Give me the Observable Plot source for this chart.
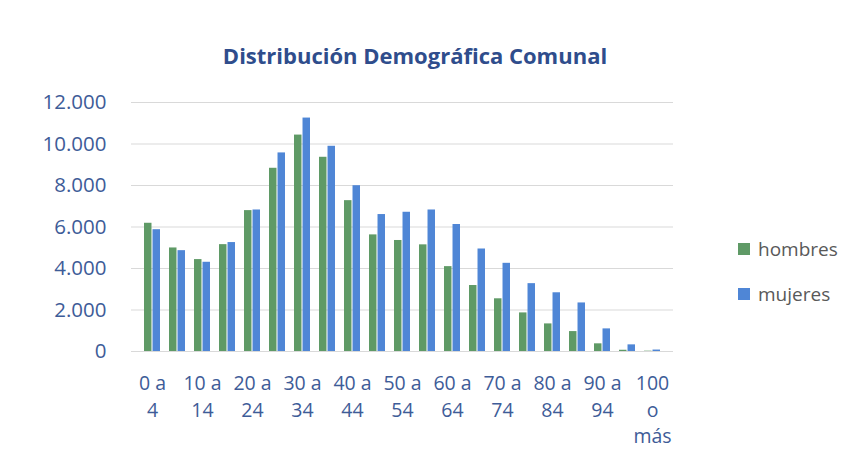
<!DOCTYPE html>
<html>
<head>
<meta charset="utf-8">
<script src="https://cdn.jsdelivr.net/npm/d3@7"></script>
<script src="https://cdn.jsdelivr.net/npm/@observablehq/plot@0.6"></script>
<style>
  html, body { margin: 0; padding: 0; background: #fff; }
  #wrap { position: relative; width: 863px; height: 471px; background: #fff; font-family: "Open Sans", Lato, sans-serif; overflow: hidden; }
  #title { position: absolute; left: 0; width: 830px; top: 40px; text-align: center; font-weight: bold; font-size: 22px; color: #2f4d8c; }
  #chart { position: absolute; left: 0; top: 80px; }
  #legend { position: absolute; left: 738px; top: 0; font-size: 19px; color: #595959; }
  .item { position: absolute; left: 0; display: flex; align-items: center; white-space: nowrap; }
  .sw { width: 12px; height: 12px; margin-right: 8px; }
</style>
</head>
<body>
<div id="wrap">
  <div id="title">Distribución Demográfica Comunal</div>
  <div id="chart"></div>
  <div id="legend"></div>
</div>
<script>
const categories = ["0 a 4","5 a 9","10 a 14","15 a 19","20 a 24","25 a 29","30 a 34","35 a 39","40 a 44","45 a 49","50 a 54","55 a 59","60 a 64","65 a 69","70 a 74","75 a 79","80 a 84","85 a 89","90 a 94","95 a 99","100 o más"];
const hombres = [6180, 4990, 4430, 5150, 6790, 8830, 10430, 9360, 7270, 5620, 5350, 5140, 4090, 3180, 2540, 1860, 1330, 960, 370, 60, 15];
const mujeres = [5870, 4860, 4300, 5250, 6820, 9570, 11250, 9890, 7990, 6600, 6710, 6820, 6120, 4940, 4250, 3270, 2830, 2340, 1090, 320, 70];
const series = ["hombres", "mujeres"];
const colors = ["#5f9a66", "#4f86d6"];
const yTicks = [0, 2000, 4000, 6000, 8000, 10000, 12000];
const shownLabels = categories.filter((d, i) => i % 2 === 0);

const dataH = categories.map((c, i) => ({age: c, sexo: "hombres", value: hombres[i]}));
const dataM = categories.map((c, i) => ({age: c, sexo: "mujeres", value: mujeres[i]}));

const es = d3.formatLocale({decimal: ",", thousands: ".", grouping: [3], currency: ["", "€"]});
const fmt = es.format(",d");
const wrapLabel = d => d.replace(" a ", " a\n").replace(" o ", "\no\n");

const W = 700, ML = 131, MR = 27;
const pInner = 0.34, pOuter = 0.17;
const step = (W - ML - MR) / (categories.length - pInner + 2 * pOuter);
const half = step * (1 - pInner) / 2;

const textColor = "#3e5c98";
const chart = Plot.plot({
  width: W,
  height: 380,
  marginTop: 22,
  marginBottom: 109,
  marginLeft: ML,
  marginRight: MR,
  style: {fontFamily: "'Open Sans', Lato, sans-serif", fontSize: "19px", background: "transparent"},
  x: {domain: categories, paddingInner: pInner, paddingOuter: pOuter, label: null},
  y: {domain: [0, 12000], label: null},
  color: {domain: series, range: colors},
  marks: [
    Plot.gridY(yTicks, {stroke: "#d9d9d9", strokeOpacity: 1}),
    Plot.axisY(yTicks, {tickSize: 0, tickPadding: 25, tickFormat: fmt, fill: textColor, fontSize: 20.5, label: null}),
    Plot.axisX({anchor: "bottom", ticks: shownLabels, tickSize: 0, tickPadding: 20, tickFormat: wrapLabel, fill: textColor, fontSize: 19.5, lineHeight: 1.35, label: null}),
    Plot.barY(dataH, {x: "age", y: "value", fill: "sexo", insetRight: half}),
    Plot.barY(dataM, {x: "age", y: "value", fill: "sexo", insetLeft: half})
  ]
});
document.getElementById("chart").appendChild(chart);

const legend = document.getElementById("legend");
const legendTops = [236, 281];
series.forEach((s, i) => {
  const it = document.createElement("div");
  it.className = "item";
  it.style.top = legendTops[i] + "px";
  const sw = document.createElement("span");
  sw.className = "sw";
  sw.style.background = colors[i];
  const tx = document.createElement("span");
  tx.textContent = s;
  it.appendChild(sw); it.appendChild(tx);
  legend.appendChild(it);
});
</script>
</body>
</html>
